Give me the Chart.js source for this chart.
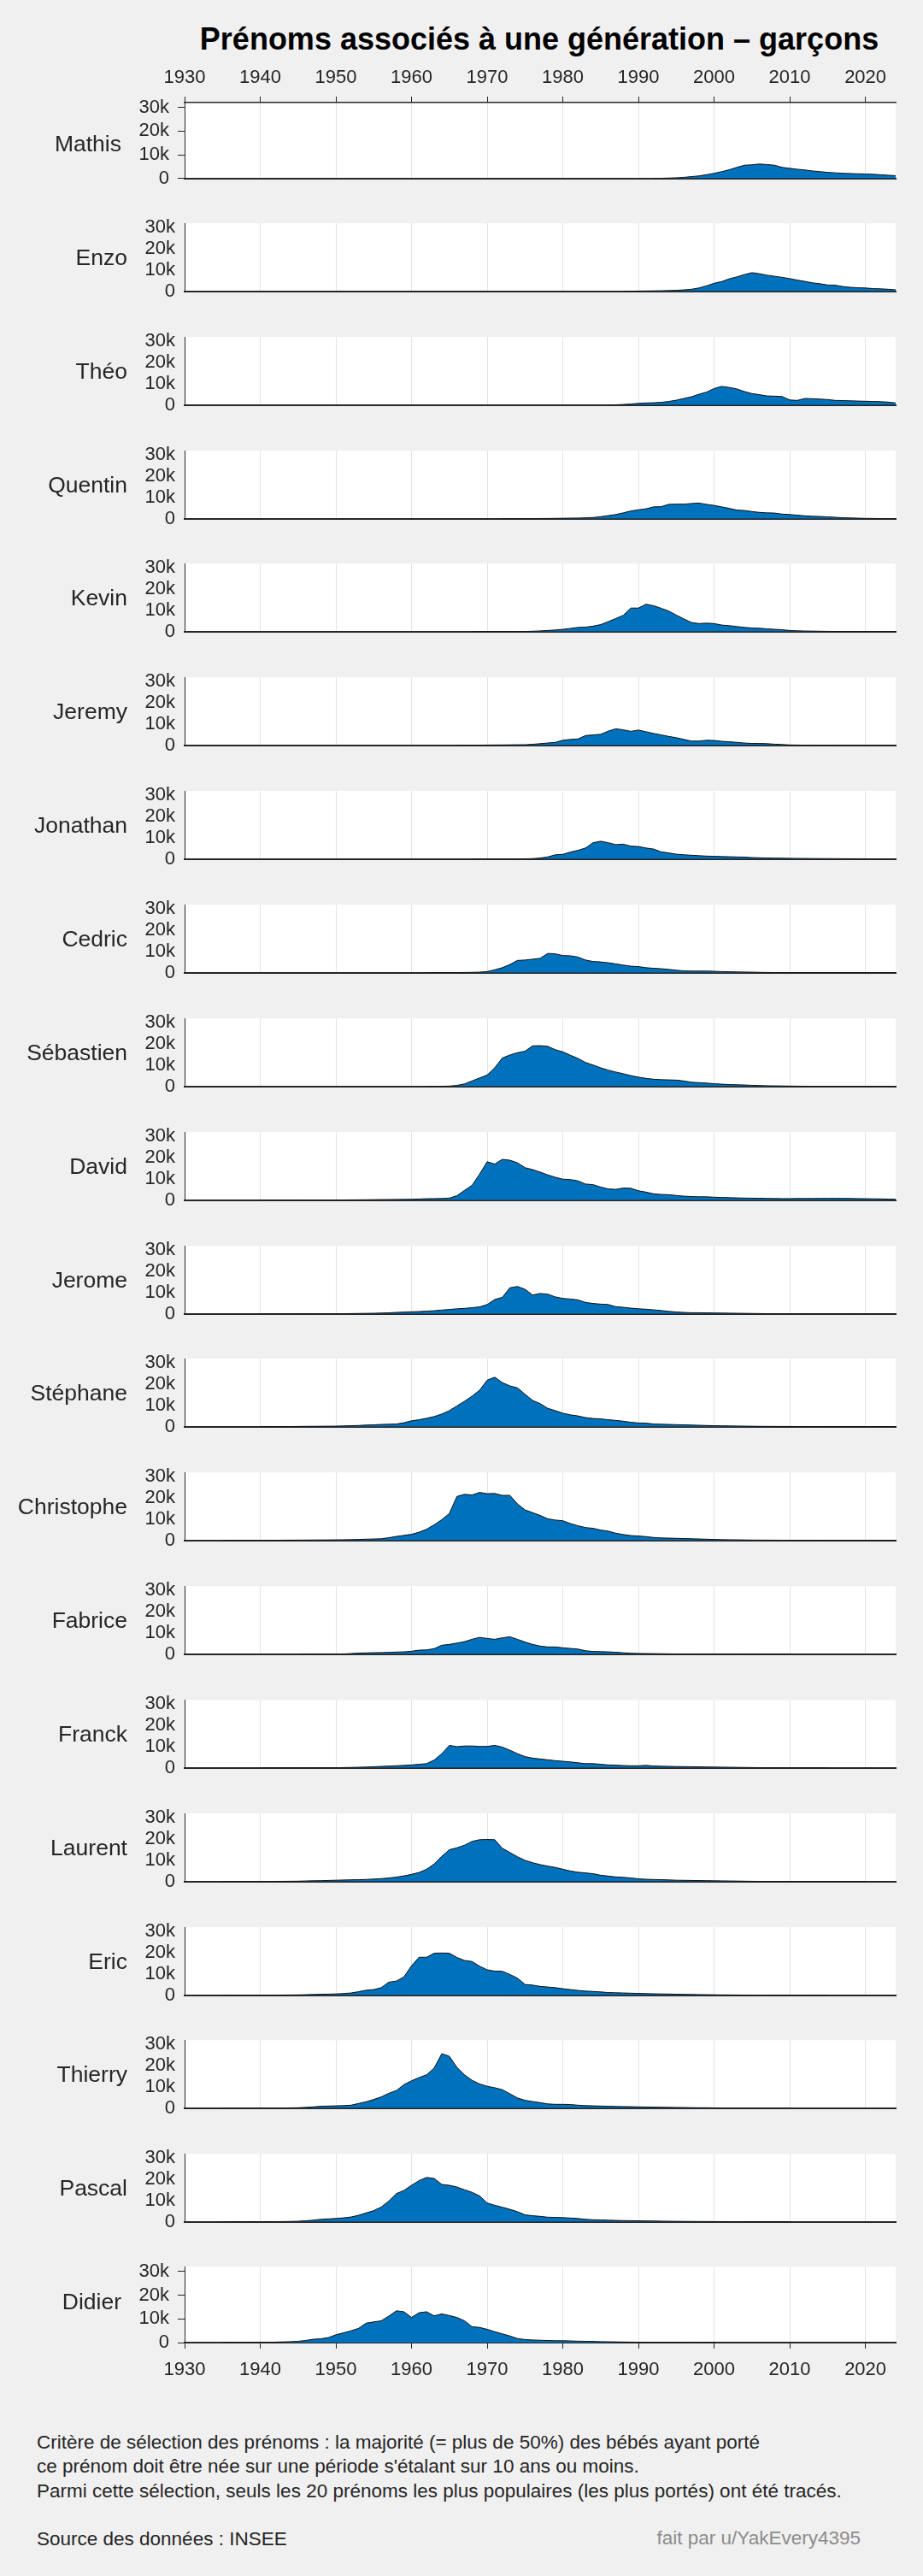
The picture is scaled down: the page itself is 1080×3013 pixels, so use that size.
<!DOCTYPE html>
<html lang="fr">
  <head>
    <meta charset="UTF-8" />
    <title>Prénoms associés à une génération - garçons</title>
    <script src="https://cdn.jsdelivr.net/npm/chart.js"></script>
    <style>
      body {
        margin: 0;
        background: #f0f0f0;
        width: 1080px;
        height: 3013px;
        position: relative;
        font-family: "Liberation Sans", Arial, sans-serif;
        color: #262626;
        overflow: hidden;
      }
      #titre {
        position: absolute;
        left: 216px;
        width: 830px;
        top: 28px;
        text-align: center;
        font-weight: bold;
        font-size: 36px;
        line-height: 36px;
        color: #000;
        white-space: nowrap;
      }
      .panneau {
        position: absolute;
        left: 0;
        width: 1080px;
      }
      .panneau canvas {
        position: absolute;
        left: 0;
        top: 0;
      }
      .nom {
        position: absolute;
        font-size: 26.5px;
        line-height: 26.5px;
        transform: translateY(-50%);
        white-space: nowrap;
      }
      .note {
        position: absolute;
        left: 43px;
        font-size: 22.5px;
        line-height: 28.3px;
        white-space: nowrap;
      }
      #auteur {
        position: absolute;
        right: 73px;
        top: 2955px;
        font-size: 22.5px;
        line-height: 28.3px;
        color: #8c8c8c;
        white-space: nowrap;
      }
    </style>
  </head>
  <body>
    <div id="titre">Prénoms associés à une génération – garçons</div>
    <div id="panneaux"></div>
    <div class="note" style="top: 2843px">
      Critère de sélection des prénoms : la majorité (= plus de 50%) des bébés ayant porté<br />
      ce prénom doit être née sur une période s'étalant sur 10 ans ou moins.<br />
      Parmi cette sélection, seuls les 20 prénoms les plus populaires (les plus portés) ont été tracés.
    </div>
    <div class="note" style="top: 2956px">Source des données : INSEE</div>
    <div id="auteur">fait par u/YakEvery4395</div>

    <script>
      // naissances par an, en milliers
      const prenoms = ["Mathis", "Enzo", "Théo", "Quentin", "Kevin", "Jeremy", "Jonathan", "Cedric", "Sébastien", "David",
        "Jerome", "Stéphane", "Christophe", "Fabrice", "Franck", "Laurent", "Eric", "Thierry", "Pascal", "Didier"];
      // première année de chaque série
      const debuts = [1992, 1988, 1986, 1972, 1968, 1966, 1968, 1962, 1962, 1940,
        1940, 1940, 1935, 1945, 1940, 1935, 1935, 1935, 1935, 1935];

      const mathis = [0.05,0.1,0.2,0.3,0.5,0.8,1.1,1.6,2.2,2.9,3.7,4.7,5.6,5.8,6.1,5.9,5.6,4.7,4.3,3.9,3.6,3.2,2.9,2.6,2.4,2.2,2.1,2.0,1.9,1.8,1.6,1.4,1.2];
      const enzo = [0.05,0.1,0.15,0.2,0.25,0.3,0.4,0.5,0.7,1.0,1.6,2.6,3.8,4.6,5.9,6.8,7.9,8.8,8.3,7.6,7.1,6.6,6.0,5.3,4.7,4.0,3.6,3.0,2.9,2.3,1.9,1.7,1.6,1.3,1.2,1.0,0.7];
      const theo = [0.05,0.1,0.3,0.5,0.8,1.0,1.1,1.3,1.7,2.3,3.1,3.9,5.1,6.1,7.8,8.8,8.3,7.6,6.4,5.4,4.9,4.3,4.2,4.0,2.4,2.2,3.1,3.0,2.8,2.6,2.2,2.1,2.0,1.9,1.8,1.7,1.6,1.4,1.0];
      const quentin = [0.05,0.05,0.1,0.1,0.1,0.15,0.15,0.2,0.25,0.3,0.35,0.45,0.6,1.0,1.5,2.0,2.8,3.7,4.2,4.7,5.6,5.7,6.8,6.9,6.9,7.2,7.4,6.8,6.3,5.6,4.9,4.1,3.9,3.4,3.0,2.8,2.7,2.2,2.0,1.7,1.4,1.2,1.1,0.9,0.7,0.5,0.4,0.3,0.2,0.15,0.1,0.1,0.1];
      const kevin = [0.02,0.03,0.05,0.05,0.06,0.07,0.08,0.1,0.2,0.35,0.55,0.8,1.1,1.5,2.0,2.1,2.6,3.3,4.7,6.2,7.7,11.1,11.1,12.9,12.2,11.0,9.7,7.8,6.0,4.3,3.8,4.0,3.8,3.1,2.8,2.4,2.0,1.7,1.6,1.3,1.1,0.9,0.55,0.4,0.3,0.25,0.2,0.15,0.12,0.1,0.1,0.08,0.06,0.05,0.05,0.04,0.04];
      const jeremy = [0.05,0.08,0.1,0.12,0.15,0.18,0.2,0.25,0.3,0.3,0.5,0.8,1.1,1.4,2.4,2.8,3.0,4.6,4.9,5.2,6.7,7.8,7.3,6.6,7.2,6.4,5.6,4.9,4.2,3.6,2.8,2.0,2.0,2.4,2.3,1.9,1.7,1.4,1.1,0.9,0.9,0.8,0.55,0.4,0.2,0.15,0.1,0.1,0.08,0.06,0.05,0.05,0.04,0.04,0.03,0.03,0.03,0.02,0.02];
      const jonathan = [0.02,0.03,0.04,0.05,0.05,0.06,0.08,0.12,0.2,0.5,1.0,2.0,2.2,3.3,4.1,5.2,7.7,8.4,7.7,6.8,7.0,6.1,5.9,5.2,4.7,3.4,2.9,2.3,2.0,1.8,1.6,1.4,1.3,1.2,1.1,1.0,0.9,0.7,0.6,0.5,0.45,0.4,0.35,0.3,0.28,0.25,0.22,0.2,0.18,0.16,0.15,0.14,0.13,0.12,0.11,0.1,0.1];
      const cedric = [0.02,0.03,0.05,0.07,0.1,0.15,0.2,0.3,0.55,1.4,2.4,3.9,5.8,6.0,6.4,6.8,9.1,8.9,8.1,8.0,7.4,6.0,5.3,5.1,4.7,4.2,3.6,3.1,2.9,2.4,2.1,1.9,1.6,1.2,0.9,0.8,0.8,0.8,0.7,0.55,0.5,0.4,0.35,0.3,0.2,0.15,0.12,0.1,0.08,0.07,0.06,0.05,0.05,0.04,0.04,0.03,0.03,0.03,0.02,0.02,0.02,0.02,0.02];
      const sebastien = [0.02,0.05,0.1,0.2,0.5,1.2,2.6,4.0,5.4,8.8,13.4,14.8,15.9,16.6,19.1,19.2,18.9,17.3,16.3,14.7,13.2,11.3,10.1,8.8,7.7,6.8,6.0,5.1,4.4,3.8,3.4,3.2,3.1,3.0,2.6,2.0,1.8,1.6,1.3,1.1,0.9,0.8,0.7,0.55,0.45,0.35,0.3,0.25,0.2,0.15,0.12,0.1,0.09,0.08,0.07,0.06,0.05,0.05,0.05,0.04,0.04,0.04,0.03];
      const david = [0.02,0.02,0.03,0.03,0.04,0.05,0.06,0.07,0.08,0.09,0.1,0.12,0.15,0.18,0.2,0.25,0.3,0.33,0.36,0.4,0.45,0.55,0.7,0.75,0.8,1.0,2.1,4.6,7.0,12.3,18.1,17.0,19.2,18.8,17.6,15.3,14.4,13.2,11.9,10.8,9.9,9.7,9.1,7.6,7.3,6.2,5.3,5.1,5.7,5.6,4.4,3.8,3.0,2.7,2.6,2.2,1.9,1.7,1.6,1.6,1.4,1.3,1.2,1.1,1.0,0.95,0.9,0.85,0.8,0.75,0.75,0.8,0.8,0.8,0.85,0.85,0.85,0.85,0.8,0.75,0.7,0.65,0.6,0.5,0.45];
      const jerome = [0.02,0.02,0.03,0.03,0.04,0.05,0.06,0.07,0.08,0.09,0.1,0.12,0.15,0.2,0.25,0.3,0.4,0.5,0.7,0.85,1.0,1.1,1.3,1.5,1.8,2.1,2.4,2.6,2.9,3.3,4.4,6.8,7.8,12.3,12.9,11.6,8.9,9.6,9.3,8.0,7.3,7.0,6.6,5.4,4.9,4.6,4.4,3.4,3.1,2.7,2.4,2.2,1.9,1.6,1.2,0.9,0.7,0.55,0.55,0.5,0.45,0.4,0.35,0.3,0.25,0.2,0.15,0.12,0.1,0.09,0.08,0.07,0.06,0.05,0.05,0.04,0.04,0.03,0.03,0.03,0.02,0.02,0.02,0.02,0.02];
      const stephane = [0.05,0.06,0.08,0.1,0.12,0.15,0.2,0.22,0.25,0.28,0.3,0.4,0.5,0.6,0.8,0.9,1.1,1.2,1.3,1.9,2.8,3.3,4.0,4.8,6.0,7.6,9.8,12.0,14.4,17.2,21.9,23.3,20.8,19.2,18.3,15.3,12.4,10.9,8.7,7.6,6.4,5.6,5.1,4.3,3.9,3.7,3.3,3.0,2.6,2.1,1.8,1.7,1.3,1.2,1.1,1.0,0.9,0.8,0.7,0.6,0.5,0.45,0.4,0.35,0.3,0.25,0.2,0.18,0.16,0.15,0.14,0.12,0.1,0.09,0.08,0.07,0.06,0.06,0.05,0.05,0.05,0.04,0.04,0.04,0.04];
      const christophe = [0.05,0.06,0.07,0.08,0.09,0.1,0.1,0.12,0.14,0.16,0.18,0.2,0.22,0.25,0.27,0.3,0.35,0.4,0.5,0.6,0.7,0.8,1.3,1.9,2.4,2.9,3.9,5.3,7.4,9.8,12.7,20.7,21.7,21.4,22.6,22.0,22.1,21.2,21.2,17.2,14.4,13.1,11.8,10.2,9.6,9.3,8.0,6.9,6.1,5.7,4.9,4.4,3.4,2.8,2.3,2.1,1.8,1.4,1.2,1.1,1.0,0.9,0.8,0.7,0.6,0.5,0.4,0.35,0.3,0.25,0.2,0.18,0.16,0.14,0.12,0.1,0.09,0.08,0.07,0.06,0.05,0.05,0.04,0.04,0.04,0.03,0.03,0.03,0.03,0.03];
      const fabrice = [0.02,0.03,0.04,0.05,0.05,0.06,0.1,0.3,0.5,0.6,0.7,0.75,0.85,1.0,1.1,1.4,1.9,2.0,2.6,4.2,4.6,5.2,5.9,7.0,7.9,7.4,7.0,7.7,8.2,7.0,5.7,4.6,3.8,3.4,3.4,3.0,2.7,2.4,1.6,1.3,1.2,1.1,0.9,0.65,0.45,0.35,0.3,0.25,0.2,0.15,0.12,0.1,0.08,0.07,0.06,0.05,0.05,0.04,0.04,0.03,0.03,0.03,0.02,0.02,0.02,0.02];
      const franck = [0.02,0.02,0.03,0.03,0.04,0.05,0.06,0.07,0.08,0.09,0.1,0.15,0.2,0.3,0.4,0.55,0.7,0.85,1.0,1.2,1.4,1.7,2.0,3.7,6.7,10.6,10.0,10.3,10.3,10.1,10.1,10.6,9.8,8.3,6.7,5.3,4.6,4.2,3.8,3.4,3.1,2.8,2.4,2.0,2.0,1.7,1.4,1.3,1.1,1.0,1.0,1.2,0.9,0.8,0.7,0.65,0.6,0.55,0.5,0.45,0.4,0.35,0.3,0.25,0.2,0.15,0.12,0.1,0.08,0.07,0.06,0.05,0.04,0.04,0.03,0.03];
      const laurent = [0.05,0.06,0.07,0.08,0.09,0.1,0.1,0.12,0.14,0.17,0.2,0.3,0.4,0.45,0.55,0.65,0.75,0.85,0.9,1.0,1.2,1.4,1.7,2.1,2.7,3.4,4.3,5.8,8.3,11.9,15.0,15.9,17.1,18.9,19.7,19.8,19.7,15.7,13.7,11.7,10.0,8.9,8.0,7.3,6.7,5.8,5.0,4.4,4.1,3.7,3.0,2.6,2.2,2.0,1.7,1.3,1.1,1.0,0.9,0.8,0.65,0.6,0.55,0.5,0.45,0.4,0.35,0.3,0.25,0.2,0.15,0.12,0.1,0.09,0.08,0.07,0.06,0.05,0.05,0.04,0.04,0.03,0.03,0.03,0.03,0.02];
      const eric = [0.05,0.06,0.07,0.08,0.09,0.1,0.11,0.12,0.14,0.17,0.2,0.3,0.4,0.5,0.55,0.65,0.85,1.1,1.7,2.4,2.7,3.6,6.2,6.7,8.7,13.9,17.9,17.9,19.8,19.9,19.8,17.8,16.4,15.9,13.7,12.0,11.4,11.3,9.8,8.1,5.1,4.8,4.2,3.9,3.6,3.1,2.7,2.3,2.0,1.8,1.6,1.3,1.2,1.1,1.0,0.9,0.8,0.7,0.65,0.6,0.5,0.45,0.4,0.35,0.3,0.25,0.2,0.18,0.15,0.12,0.1,0.09,0.08,0.07,0.06,0.05,0.05,0.04,0.04,0.03,0.03];
      const thierry = [0.02,0.03,0.03,0.04,0.04,0.05,0.05,0.1,0.1,0.15,0.2,0.4,0.6,0.9,1.0,1.1,1.2,1.4,2.2,3.0,4.1,5.3,7.0,8.3,11.1,12.9,14.4,15.7,18.9,25.6,24.4,19.2,15.7,13.1,11.4,10.3,9.6,8.7,6.8,4.8,3.7,3.1,2.6,2.0,1.8,1.8,1.7,1.4,1.2,1.1,1.0,0.9,0.8,0.75,0.7,0.6,0.55,0.5,0.45,0.4,0.35,0.3,0.25,0.2,0.2,0.15,0.12,0.1,0.09,0.08,0.07,0.06,0.05,0.05,0.04,0.04];
      const pascal = [0.02,0.03,0.03,0.04,0.04,0.05,0.1,0.1,0.15,0.2,0.3,0.5,0.8,1.2,1.4,1.6,1.9,2.3,3.1,4.2,5.3,7.0,9.8,13.3,14.8,17.2,19.4,20.9,20.4,17.6,17.2,16.4,15.1,13.9,12.2,8.9,7.8,6.9,5.9,4.8,3.3,2.9,2.6,2.2,2.1,2.0,1.8,1.6,1.2,1.0,0.9,0.8,0.7,0.6,0.55,0.5,0.45,0.4,0.35,0.3,0.25,0.22,0.2,0.18,0.16,0.15,0.12,0.1,0.09,0.08,0.07,0.06,0.05,0.05,0.04,0.04];
      const didier = [0.03,0.04,0.05,0.06,0.08,0.1,0.15,0.2,0.3,0.4,0.55,0.9,1.4,1.6,2.1,3.3,4.1,5.0,6.0,8.2,8.7,9.2,11.2,13.4,13.0,10.6,12.6,13.0,11.3,12.1,11.4,10.6,9.2,6.7,6.4,5.6,4.6,3.7,2.8,1.7,1.3,1.1,1.0,0.9,0.8,0.8,0.7,0.6,0.55,0.5,0.4,0.35,0.3,0.25,0.2,0.15,0.12,0.1,0.09,0.08,0.07,0.06,0.05,0.05,0.04,0.04];

      const series = [mathis, enzo, theo, quentin, kevin, jeremy, jonathan, cedric, sebastien, david,
        jerome, stephane, christophe, fabrice, franck, laurent, eric, thierry, pascal, didier];

      const anneesTicks = [1930, 1940, 1950, 1960, 1970, 1980, 1990, 2000, 2010, 2020];
      const valeursTicks = [0, 10, 20, 30];

      const couleurAxe = "#262626";
      const police = { family: "'Liberation Sans', Arial, sans-serif", size: 22 };

      // fond blanc de la zone de tracé
      const fondBlanc = {
        id: "fondBlanc",
        beforeDraw(chart) {
          const a = chart.chartArea;
          chart.ctx.save();
          chart.ctx.fillStyle = "#ffffff";
          chart.ctx.fillRect(a.left, a.top, a.right - a.left, a.bottom - a.top);
          chart.ctx.restore();
        },
      };

      const hautPremier = 120;
      const pas = 132.85;
      const hauteurTrace = 96;

      prenoms.forEach((nom, i) => {
        const premier = i === 0;
        const dernier = i === prenoms.length - 1;
        const hautTrace = Math.round(hautPremier + pas * i);
        const padHaut = premier ? 60 : 16;
        const padBas = dernier ? 60 : 16;
        const hauteur = hauteurTrace + padHaut + padBas;

        const panneau = document.createElement("div");
        panneau.className = "panneau";
        panneau.style.top = hautTrace - padHaut + "px";
        panneau.style.height = hauteur + "px";

        const canvas = document.createElement("canvas");
        canvas.width = 1080;
        canvas.height = hauteur;
        panneau.appendChild(canvas);

        const etiquette = document.createElement("div");
        etiquette.className = "nom";
        etiquette.textContent = nom;
        etiquette.style.top = padHaut + hauteurTrace / 2 + "px";
        etiquette.style.right = 1080 - (premier || dernier ? 142 : 149) + "px";
        panneau.appendChild(etiquette);

        document.getElementById("panneaux").appendChild(panneau);

        const points = series[i].map((v, k) => ({ x: debuts[i] + k, y: v }));

        const scales = {
          x: {
            type: "linear",
            position: "bottom",
            min: 1930,
            max: 2024,
            afterBuildTicks: (s) => (s.ticks = anneesTicks.map((v) => ({ value: v }))),
            afterFit: (s) => (s.height = dernier ? padBas : 0),
            ticks: {
              display: dernier,
              callback: (v) => String(v),
              font: police,
              color: couleurAxe,
              padding: 12,
              maxRotation: 0,
              autoSkip: false,
            },
            grid: {
              color: "#e3e3e3",
              lineWidth: 1,
              drawTicks: dernier,
              tickLength: 7,
              tickColor: couleurAxe,
              tickWidth: 1,
            },
            border: { display: true, color: couleurAxe, width: 2 },
          },
          y: {
            min: 0,
            max: 32,
            afterBuildTicks: (s) => (s.ticks = valeursTicks.map((v) => ({ value: v }))),
            afterFit: (s) => (s.width = 216),
            ticks: {
              callback: (v) => (v === 0 ? "0" : v + "k"),
              font: police,
              color: couleurAxe,
              padding: premier || dernier ? 10 : 11,
            },
            grid: {
              drawOnChartArea: false,
              drawTicks: premier || dernier,
              tickLength: 8,
              tickColor: couleurAxe,
              tickWidth: 1,
            },
            border: { display: true, color: couleurAxe, width: 1 },
          },
        };

        // axe des années en haut du premier panneau
        if (premier) {
          scales.xHaut = {
            type: "linear",
            position: "top",
            min: 1930,
            max: 2024,
            afterBuildTicks: (s) => (s.ticks = anneesTicks.map((v) => ({ value: v }))),
            afterFit: (s) => (s.height = padHaut),
            ticks: {
              callback: (v) => String(v),
              font: police,
              color: couleurAxe,
              padding: 9,
              maxRotation: 0,
              autoSkip: false,
            },
            grid: {
              drawOnChartArea: false,
              drawTicks: true,
              tickLength: 7,
              tickColor: couleurAxe,
              tickWidth: 1,
            },
            border: { display: true, color: couleurAxe, width: 1.5 },
          };
        }

        new Chart(canvas, {
          type: "line",
          data: {
            datasets: [
              {
                data: points,
                fill: "origin",
                backgroundColor: "#0072BD",
                borderColor: "#111111",
                borderWidth: 1,
                pointRadius: 0,
                tension: 0,
              },
            ],
          },
          options: {
            responsive: false,
            animation: false,
            layout: {
              padding: {
                left: 0,
                right: 32,
                top: premier ? 0 : padHaut,
                bottom: dernier ? 0 : padBas,
              },
            },
            plugins: {
              legend: { display: false },
              tooltip: { enabled: false },
            },
            scales: scales,
          },
          plugins: [fondBlanc],
        });
      });
    </script>
  </body>
</html>
